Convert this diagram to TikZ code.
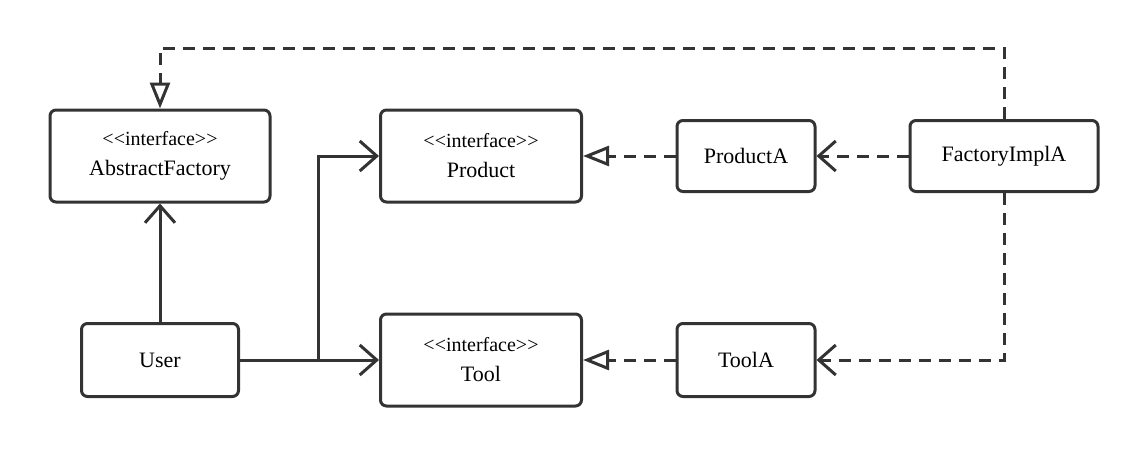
\documentclass[tikz,border=0pt]{standalone}
\usepackage{fontspec}
\setmainfont{Liberation Serif}
\newfontfamily\umlfont{Liberation Serif}
\usepackage{tikz}
\usetikzlibrary{arrows.meta}
\definecolor{umlgray}{HTML}{333333}
\tikzstyle{classbox} = [draw=umlgray, line width=3pt, fill=white,
rectangle, rounded corners=6pt, align=center, text=black,
font=\umlfont\fontsize{22}{30}\selectfont]
\tikzstyle{assoc} = [draw=umlgray, line width=3pt, -{Straight Barb[length=17pt,width=30pt,line width=3pt]}]
\tikzstyle{depend} = [assoc, dash pattern=on 12pt off 8pt]
\tikzstyle{realize} = [draw=umlgray, line width=3pt, dash pattern=on 12pt off 8pt,
-{Triangle[open,length=26pt,width=20pt,line width=3pt]}]
\newcommand{\stereo}[1]{{\fontsize{20}{30}\selectfont <{}<{}#1>{}>{}}\\}

\begin{document}
\begin{tikzpicture}[x=1pt,y=-1pt]
        \useasboundingbox (0,0) rectangle (1148,455);
        % interfaces
        \node [classbox, minimum width=220pt, minimum height=92pt] (factory) at (160,156) {\stereo{interface}AbstractFactory};
        \node [classbox, minimum width=201pt, minimum height=92pt] (product) at (481,156) {\stereo{interface}Product};
        \node [classbox, minimum width=201pt, minimum height=92pt] (tool) at (481,360) {\stereo{interface}Tool};
        % classes
        \node [classbox, minimum width=157pt, minimum height=73pt] (user) at (160,360) {User};
        \node [classbox, minimum width=138pt, minimum height=71pt] (productA) at (746,156) {ProductA};
        \node [classbox, minimum width=138pt, minimum height=73pt] (toolA) at (746,360) {ToolA};
        \node [classbox, minimum width=188pt, minimum height=71pt] (implA) at (1004,156) {FactoryImplA};
        \coordinate (split) at (318,360);
        \coordinate (top) at (1004,48);
        % user uses
        \draw [assoc] (user) -- (factory);
        \draw [assoc] (user) -- (tool);
        \draw [assoc] (split) |- (product);
        % realizations
        \draw [realize] (productA) -- (product);
        \draw [realize] (toolA) -- (tool);
        \draw [realize] (implA.north) -- (top) -| (factory.north);
        % dependencies
        \draw [depend] (implA) -- (productA);
        \draw [depend] (implA.south) |- (toolA.east);
    \end{tikzpicture}
\end{document}
